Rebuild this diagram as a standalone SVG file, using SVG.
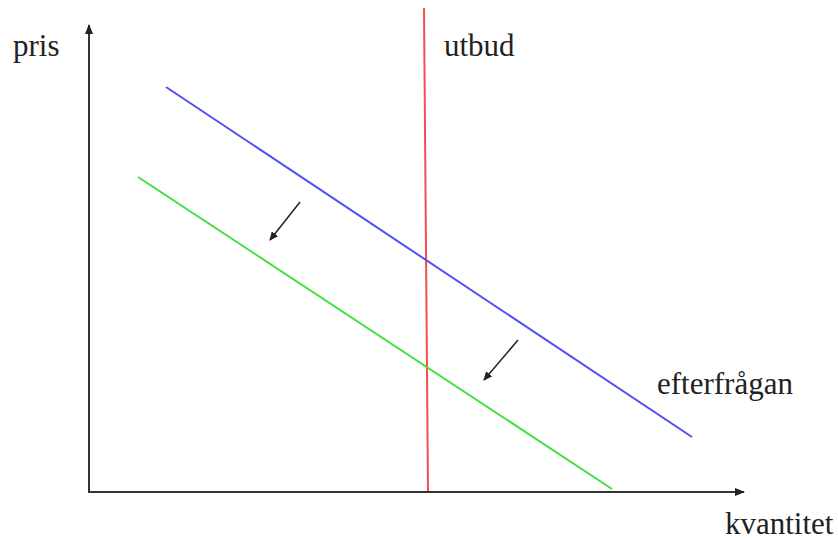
<svg xmlns="http://www.w3.org/2000/svg" width="838" height="540" viewBox="0 0 838 540">
<style>
text{font-family:"Liberation Serif","Times New Roman",serif;font-size:31px;fill:#222}
.ax{stroke:#333;stroke-width:2;fill:none}
.sm{stroke:#222;stroke-width:1.5;fill:none}
</style>
<defs>
<marker id="ah" markerWidth="10" markerHeight="8" refX="9" refY="4" orient="auto" markerUnits="userSpaceOnUse">
<path d="M0,0 L10,4 L0,8 Z" fill="#222"/>
</marker>
<marker id="sh" markerWidth="9" markerHeight="8" refX="8" refY="4" orient="auto" markerUnits="userSpaceOnUse">
<path d="M0,0 L9,4 L0,8 Z" fill="#222"/>
</marker>
</defs>
<rect width="838" height="540" fill="#fff"/>
<g id="connectors">
<line class="ax" x1="89" y1="492" x2="89" y2="25" marker-end="url(#ah)"/>
<line class="ax" x1="88" y1="492" x2="744" y2="492" marker-end="url(#ah)"/>
<line x1="424" y1="8" x2="428" y2="491" stroke="#f05050" stroke-width="2"/>
<line x1="166" y1="87" x2="692" y2="437" stroke="#5050f0" stroke-width="2"/>
<line x1="138" y1="177" x2="612" y2="489" stroke="#40e040" stroke-width="2"/>
<line class="sm" x1="300" y1="202" x2="270" y2="240" marker-end="url(#sh)"/>
<line class="sm" x1="518" y1="340" x2="484" y2="380" marker-end="url(#sh)"/>
</g>
<g id="pris"><text x="13" y="56">pris</text></g>
<g id="utbud"><text x="444" y="56">utbud</text></g>
<g id="efterfragan"><text x="657" y="394">efterfrågan</text></g>
<g id="kvantitet"><text x="725" y="534">kvantitet</text></g>
</svg>
